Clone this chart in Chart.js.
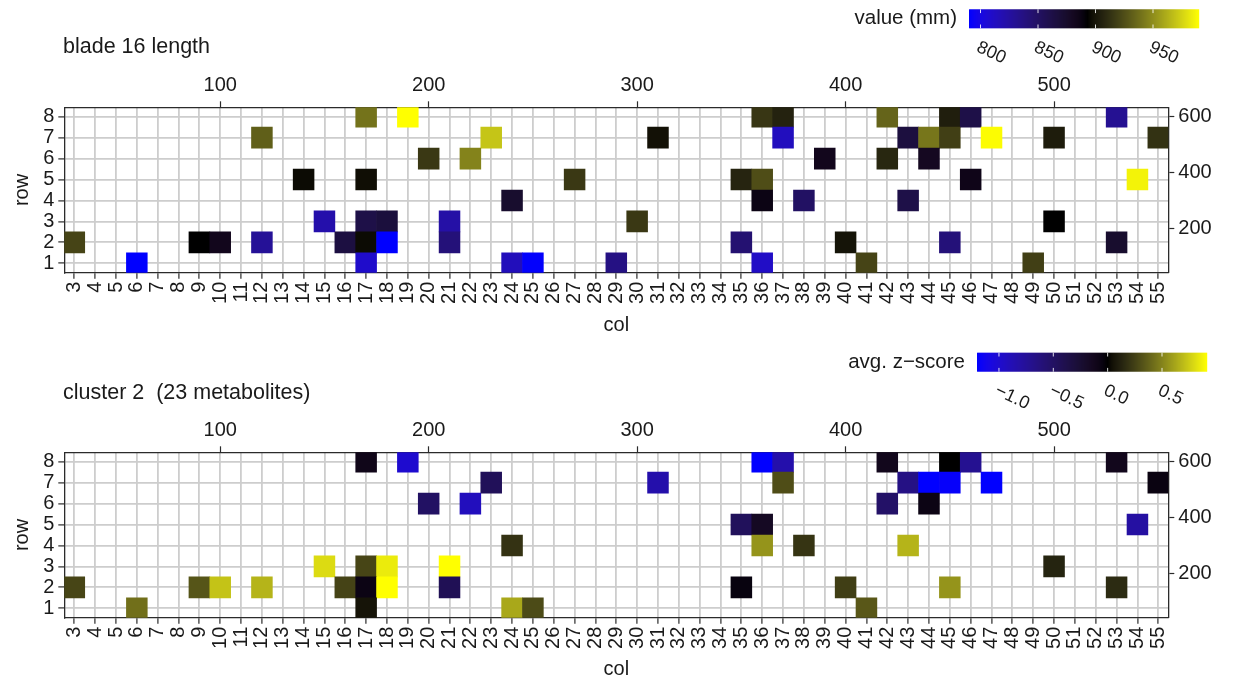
<!DOCTYPE html>
<html>
<head>
<meta charset="utf-8">
<script src="https://cdn.jsdelivr.net/npm/chart.js@4.4.1/dist/chart.umd.min.js"></script>
<style>
  html, body { margin: 0; padding: 0; background: #ffffff; overflow: hidden; }
  #wrap { position: relative; width: 1233px; height: 681px; }
  .panel { position: absolute; left: 0; width: 1233px; }
  #panelBlade { top: 0; height: 345px; }
  #panelCluster { top: 345px; height: 336px; }
</style>
</head>
<body>
<div id="wrap">
  <div class="panel" id="panelBlade"><canvas id="bladeChart"></canvas></div>
  <div class="panel" id="panelCluster"><canvas id="clusterChart"></canvas></div>
</div>
<script>
// ---- axis ticks --------------------------------------------------------
const colTicks = [3, 4, 5, 6, 7, 8, 9, 10, 11, 12, 13, 14, 15, 16, 17, 18, 19, 20, 21, 22, 23, 24, 25, 26, 27, 28, 29,
                  30, 31, 32, 33, 34, 35, 36, 37, 38, 39, 40, 41, 42, 43, 44, 45, 46, 47, 48, 49, 50, 51, 52, 53, 54, 55];
const rowTicks = [1, 2, 3, 4, 5, 6, 7, 8];
const colPositionTicks = [100, 200, 300, 400, 500];   // top axis, mm along the row
const rowPositionTicks = [200, 400, 600];             // right axis, mm across rows
const colSpacingMm = 10;
const rowSpacingMm = 75;

// ---- panel 1: blade 16 length ------------------------------------------
const bladeCols = [17, 19, 36, 37, 42, 45, 46, 53,
                   12, 23, 31, 37, 43, 44, 45, 47, 50, 55,
                   20, 22, 39, 42, 44,
                   14, 17, 27, 35, 36, 46, 54,
                   24, 36, 38, 43,
                   15, 17, 18, 21, 30, 50,
                   3, 9, 10, 12, 16, 17, 18, 21, 35, 40, 45, 53,
                   6, 17, 24, 25, 29, 36, 41, 49];
const bladeRows = [8, 8, 8, 8, 8, 8, 8, 8,
                   7, 7, 7, 7, 7, 7, 7, 7, 7, 7,
                   6, 6, 6, 6, 6,
                   5, 5, 5, 5, 5, 5, 5,
                   4, 4, 4, 4,
                   3, 3, 3, 3, 3, 3,
                   2, 2, 2, 2, 2, 2, 2, 2, 2, 2, 2, 2,
                   1, 1, 1, 1, 1, 1, 1, 1];
const bladeLength = [940, 990, 915, 906, 934, 904, 862, 831,
                     932, 970, 898, 814, 866, 941, 919, 989, 903, 913,
                     916, 946, 883, 908, 880,
                     896, 897, 916, 907, 925, 885, 986,
                     874, 887, 850, 862,
                     821, 862, 867, 823, 916, 893,
                     921, 893, 883, 829, 865, 896, 790, 841, 844, 899, 841, 874,
                     790, 809, 815, 791, 837, 811, 921, 919];
const bladeColourDomain = [790, 893, 990];
const bladeLegendTicks = [800, 850, 900, 950];

// ---- panel 2: cluster 2 (23 metabolites) --------------------------------
const clusterCols = [17, 19, 36, 37, 42, 45, 46, 53,
                     23, 31, 37, 43, 44, 45, 47, 55,
                     20, 22, 42, 44,
                     35, 36, 54,
                     24, 36, 38, 43,
                     15, 17, 18, 21, 50,
                     3, 9, 10, 12, 16, 17, 18, 21, 35, 40, 45, 53,
                     6, 17, 24, 25, 41];
const clusterRows = [8, 8, 8, 8, 8, 8, 8, 8,
                     7, 7, 7, 7, 7, 7, 7, 7,
                     6, 6, 6, 6,
                     5, 5, 5,
                     4, 4, 4, 4,
                     3, 3, 3, 3, 3,
                     2, 2, 2, 2, 2, 2, 2, 2, 2, 2, 2, 2,
                     1, 1, 1, 1, 1];
const clusterZ = [-0.10, -1.00, -1.20, -0.84, -0.12, 0.00, -0.72, -0.12,
                  -0.45, -0.84, 0.30, -0.66, -1.20, -1.18, -1.20, -0.06,
                  -0.50, -0.92, -0.52, -0.07,
                  -0.46, -0.16, -0.80,
                  0.19, 0.56, 0.20, 0.67,
                  0.80, 0.27, 0.85, 0.914, 0.13,
                  0.27, 0.33, 0.72, 0.67, 0.26, -0.07, 0.914, -0.43, -0.05, 0.24, 0.56, 0.16,
                  0.43, 0.06, 0.63, 0.29, 0.34];
const clusterColourDomain = [-1.202, 0, 0.914];
const clusterLegendTicks = [-1.0, -0.5, 0.0, 0.5];

// ---- colour ramp: blue -> black -> yellow, interpolated in CIE Lab -------
const rampColours = [[0, 0, 255], [0, 0, 0], [255, 255, 0]];
const WHITE = [0.95047, 1.0, 1.08883];
function toLinear(c) { c /= 255; return c <= 0.04045 ? c / 12.92 : Math.pow((c + 0.055) / 1.055, 2.4); }
function fromLinear(c) {
  c = c <= 0.0031308 ? 12.92 * c : 1.055 * Math.pow(c, 1 / 2.4) - 0.055;
  return Math.round(Math.max(0, Math.min(1, c)) * 255);
}
function labF(t) { return t > 216 / 24389 ? Math.cbrt(t) : (24389 / 27 * t + 16) / 116; }
function labFi(t) { return t * t * t > 216 / 24389 ? t * t * t : (116 * t - 16) / (24389 / 27); }
function rgbToLab(rgb) {
  const [r, g, b] = rgb.map(toLinear);
  const x = (0.4124 * r + 0.3576 * g + 0.1805 * b) / WHITE[0];
  const y = (0.2126 * r + 0.7152 * g + 0.0722 * b) / WHITE[1];
  const z = (0.0193 * r + 0.1192 * g + 0.9505 * b) / WHITE[2];
  const fx = labF(x), fy = labF(y), fz = labF(z);
  return [116 * fy - 16, 500 * (fx - fy), 200 * (fy - fz)];
}
function labToRgb(lab) {
  const fy = (lab[0] + 16) / 116, fx = fy + lab[1] / 500, fz = fy - lab[2] / 200;
  const x = labFi(fx) * WHITE[0], y = labFi(fy) * WHITE[1], z = labFi(fz) * WHITE[2];
  const r = 3.2406 * x - 1.5372 * y - 0.4986 * z;
  const g = -0.9689 * x + 1.8758 * y + 0.0415 * z;
  const b = 0.0557 * x - 0.2040 * y + 1.0570 * z;
  return [fromLinear(r), fromLinear(g), fromLinear(b)];
}
const rampLab = rampColours.map(rgbToLab);
function rampColour(value, domain) {
  const v = Math.max(domain[0], Math.min(domain[2], value));
  let i = v <= domain[1] ? 0 : 1;
  const t = (v - domain[i]) / (domain[i + 1] - domain[i]);
  const a = rampLab[i], b = rampLab[i + 1];
  const rgb = labToRgb([a[0] + (b[0] - a[0]) * t, a[1] + (b[1] - a[1]) * t, a[2] + (b[2] - a[2]) * t]);
  return 'rgb(' + rgb.join(',') + ')';
}

// ---- shared styling ----------------------------------------------------
const FONT = "'Liberation Sans', Arial, Helvetica, sans-serif";
const INK = '#1a1a1a';
const FRAME = '#2b2b2b';
const GRID = '#cdcdcd';

function tileData(cols, rows, values) {
  return cols.map((c, i) => ({ x: c, y: [rows[i] - 0.5, rows[i] + 0.5], v: values[i] }));
}

// title + colour-bar legend drawn above each panel
const panelDecor = {
  id: 'panelDecor',
  afterDraw(chart, args, o) {
    const ctx = chart.ctx;
    ctx.save();
    ctx.fillStyle = INK;
    ctx.font = o.titleSize + 'px ' + FONT;
    ctx.textAlign = 'left';
    ctx.textBaseline = 'middle';
    ctx.fillText(o.title, o.titleX, o.titleY);

    const { barX, barY, barW, barH, domain } = o;
    const lo = domain[0], hi = domain[2];
    const steps = Math.round(barW);
    for (let i = 0; i < steps; i++) {
      const v = lo + (hi - lo) * (i + 0.5) / steps;
      ctx.fillStyle = rampColour(v, domain);
      ctx.fillRect(barX + i, barY, 1.2, barH);
    }
    ctx.strokeStyle = 'rgba(255,255,255,0.85)';
    ctx.lineWidth = 1;
    o.ticks.forEach(t => {
      const x = barX + (t - lo) / (hi - lo) * barW;
      ctx.beginPath();
      ctx.moveTo(x, barY); ctx.lineTo(x, barY + barH * 0.2);
      ctx.moveTo(x, barY + barH); ctx.lineTo(x, barY + barH * 0.8);
      ctx.stroke();
    });

    ctx.fillStyle = INK;
    ctx.font = o.legendTitleSize + 'px ' + FONT;
    ctx.textAlign = 'right';
    ctx.textBaseline = 'middle';
    ctx.fillText(o.legendTitle, barX - 12, barY + barH / 2);

    ctx.font = o.legendLabelSize + 'px ' + FONT;
    ctx.textAlign = 'left';
    ctx.textBaseline = 'top';
    o.ticks.forEach((t, i) => {
      const x = barX + (t - lo) / (hi - lo) * barW;
      ctx.save();
      ctx.translate(x + 1, barY + barH + 10);
      ctx.rotate(25 * Math.PI / 180);
      ctx.fillText(o.tickLabels[i], 0, 0);
      ctx.restore();
    });
    ctx.restore();
  }
};

function buildPanel(canvasId, cols, rows, values, domain, decor, bottomSpace, bottomPad) {
  const LEFT = 64.3, RIGHT = 1233 - 1168.3, TOP = 107.3;
  const tickFont = { family: FONT, size: 20 };
  const colMin = 2.52, colMax = 55.48, rowMin = 0.55, rowMax = 8.45;
  return new Chart(document.getElementById(canvasId), {
    type: 'bar',
    data: {
      datasets: [{
        data: tileData(cols, rows, values),
        backgroundColor: ctx => ctx.raw ? rampColour(ctx.raw.v, domain) : 'transparent',
        borderWidth: 0,
        categoryPercentage: 1,
        barPercentage: 1,
        grouped: false
      }]
    },
    options: {
      responsive: true,
      maintainAspectRatio: false,
      animation: false,
      events: [],
      layout: { padding: { left: 4, right: 0, top: 0, bottom: bottomPad } },
      plugins: { legend: { display: false }, tooltip: { enabled: false }, panelDecor: decor },
      scales: {
        x: {
          type: 'linear', position: 'bottom', min: colMin, max: colMax, offset: false,
          afterBuildTicks: s => { s.ticks = colTicks.map(v => ({ value: v })); },
          ticks: { autoSkip: false, minRotation: 90, maxRotation: 90, padding: 3, color: INK, font: tickFont,
                   callback: v => String(v) },
          grid: { display: true, offset: false, color: GRID, lineWidth: 1.8, drawTicks: true,
                  tickLength: 6, tickColor: FRAME, tickWidth: 1.2 },
          border: { display: true, color: FRAME, width: 1.3 },
          title: { display: true, text: 'col', color: INK, font: { family: FONT, size: 20 }, padding: { top: 0, bottom: 0 } },
          afterFit: s => { s.height = bottomSpace; }
        },
        x2: {
          type: 'linear', axis: 'x', position: 'top', offset: false,
          min: colMin * colSpacingMm, max: colMax * colSpacingMm,
          afterBuildTicks: s => { s.ticks = colPositionTicks.map(v => ({ value: v })); },
          ticks: { autoSkip: false, maxRotation: 0, padding: 4, color: INK, font: tickFont },
          grid: { display: true, offset: false, drawOnChartArea: false, drawTicks: true, tickLength: 6,
                  tickColor: FRAME, tickWidth: 1.2 },
          border: { display: true, color: FRAME, width: 1.3 },
          afterFit: s => { s.height = TOP; }
        },
        y: {
          type: 'linear', position: 'left', min: rowMin, max: rowMax, beginAtZero: false, offset: false,
          afterBuildTicks: s => { s.ticks = rowTicks.map(v => ({ value: v })); },
          ticks: { autoSkip: false, padding: 4, color: INK, font: tickFont },
          grid: { display: true, offset: false, color: GRID, lineWidth: 1.8, drawTicks: true, tickLength: 6,
                  tickColor: FRAME, tickWidth: 1.2 },
          border: { display: true, color: FRAME, width: 1.3 },
          title: { display: true, text: 'row', color: INK, font: { family: FONT, size: 20 }, padding: { top: 6, bottom: 0 } },
          afterFit: s => { s.width = LEFT - 4; }
        },
        y2: {
          type: 'linear', axis: 'y', position: 'right', beginAtZero: false, offset: false,
          min: rowMin * rowSpacingMm, max: rowMax * rowSpacingMm,
          afterBuildTicks: s => { s.ticks = rowPositionTicks.map(v => ({ value: v })); },
          ticks: { autoSkip: false, padding: 4, color: INK, font: tickFont },
          grid: { display: true, offset: false, drawOnChartArea: false, drawTicks: true, tickLength: 6,
                  tickColor: FRAME, tickWidth: 1.2 },
          border: { display: true, color: FRAME, width: 1.3 },
          afterFit: s => { s.width = RIGHT; }
        }
      }
    },
    plugins: [panelDecor]
  });
}

buildPanel('bladeChart', bladeCols, bladeRows, bladeLength, bladeColourDomain, {
  title: 'blade 16 length', titleX: 63, titleY: 47, titleSize: 21.5,
  legendTitle: 'value (mm)', legendTitleSize: 20.5, legendLabelSize: 18,
  barX: 969, barY: 9.3, barW: 230, barH: 19,
  domain: bladeColourDomain, ticks: bladeLegendTicks,
  tickLabels: bladeLegendTicks.map(String)
}, 345 - 8 - 272.7, 8);

buildPanel('clusterChart', clusterCols, clusterRows, clusterZ, clusterColourDomain, {
  title: 'cluster 2  (23 metabolites)', titleX: 63, titleY: 48, titleSize: 21.5,
  legendTitle: 'avg. z\u2212score', legendTitleSize: 20.5, legendLabelSize: 18,
  barX: 977, barY: 7.7, barW: 230, barH: 19,
  domain: clusterColourDomain, ticks: clusterLegendTicks,
  tickLabels: clusterLegendTicks.map(v => v.toFixed(1).replace('-', '\u2212'))
}, 336 - 272.7, 0);
</script>
</body>
</html>
